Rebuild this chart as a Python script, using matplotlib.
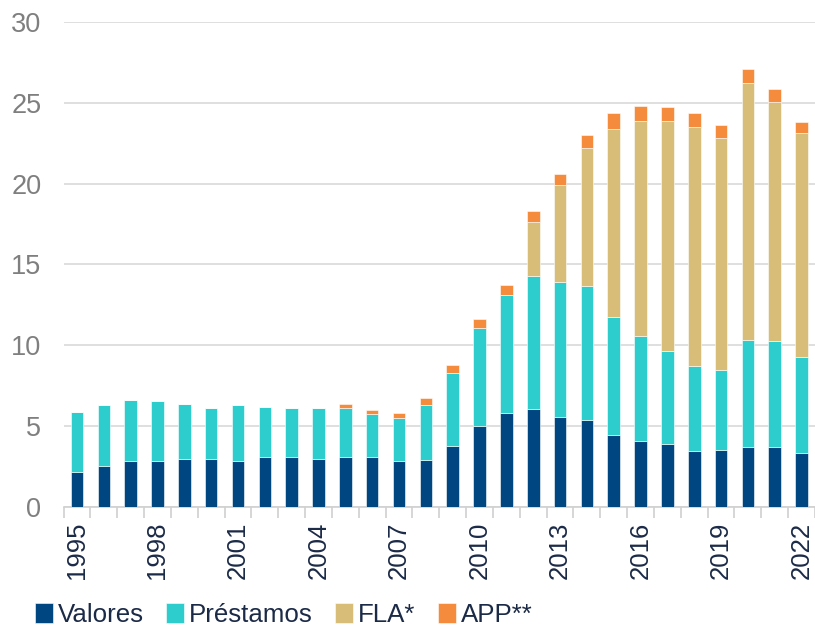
import matplotlib.pyplot as plt
import numpy as np

plt.rcParams['font.family'] = ['Liberation Sans', 'DejaVu Sans']

# Datos
anios = list(range(1995, 2023))
valores = [2.16, 2.49, 2.80, 2.80, 2.96, 2.96, 2.80, 3.05, 3.05, 2.96,
           3.05, 3.05, 2.80, 2.88, 3.75, 5.02, 5.80, 6.05, 5.58, 5.35,
           4.47, 4.07, 3.91, 3.44, 3.52, 3.69, 3.69, 3.30]
prestamos_top = [5.89, 6.28, 6.60, 6.52, 6.36, 6.11, 6.28, 6.20, 6.11, 6.11,
                 6.13, 5.72, 5.50, 6.28, 8.27, 11.06, 13.11, 14.28, 13.89, 13.67,
                 11.77, 10.58, 9.61, 8.69, 8.44, 10.33, 10.25, 9.24]
fla_top = [5.89, 6.28, 6.60, 6.52, 6.36, 6.11, 6.28, 6.20, 6.11, 6.11,
           6.13, 5.72, 5.50, 6.28, 8.27, 11.06, 13.11, 17.62, 19.92, 22.22,
           23.40, 23.89, 23.89, 23.48, 22.84, 26.26, 25.06, 23.15]
total = [5.89, 6.28, 6.60, 6.52, 6.36, 6.11, 6.28, 6.20, 6.11, 6.11,
         6.38, 5.97, 5.83, 6.75, 8.75, 11.60, 13.73, 18.32, 20.62, 22.99,
         24.35, 24.84, 24.73, 24.35, 23.62, 27.12, 25.85, 23.79]

valores = np.array(valores)
prestamos = np.array(prestamos_top) - valores
fla = np.array(fla_top) - np.array(prestamos_top)
app = np.array(total) - np.array(fla_top)

colores = ['#004681', '#2ecdcd', '#d7bd77', '#f58b3c']
etiquetas = ['Valores', 'Préstamos', 'FLA*', 'APP**']

fig = plt.figure(figsize=(8.15, 6.34), dpi=100)
ax = fig.add_axes([0.078, 0.2008, 0.922, 0.7642])

x = np.arange(len(anios))
w = 0.47
base = np.zeros(len(anios))
for serie, col, lab in zip([valores, prestamos, fla, app], colores, etiquetas):
    ax.bar(x, serie, w, bottom=base, color=col, label=lab, zorder=3,
           edgecolor='white', linewidth=0.4)
    base = base + serie

ax.set_ylim(0, 30)
ax.set_yticks(range(0, 31, 5))
ax.set_xlim(-0.5, 27.37)
ax.grid(axis='y', color='#d9d9d9', linewidth=1.2, zorder=0)

ax.set_xticks(x[::3])
ax.set_xticklabels([str(a) for a in anios[::3]], rotation=90)
ax.set_xticks(np.arange(-0.5, 28, 1), minor=True)
ax.tick_params(axis='x', which='major', length=0, pad=11, labelsize=18.5,
               labelcolor='#1b2a47')
ax.tick_params(axis='x', which='minor', length=8, color='#d0d0d0', width=1.2)
ax.tick_params(axis='y', length=0, pad=16, labelsize=19.5, labelcolor='#7f7f7f')

for s in ['top', 'right', 'left']:
    ax.spines[s].set_visible(False)
ax.spines['bottom'].set_color('#d0d0d0')
ax.spines['bottom'].set_linewidth(1.2)

fig.legend(loc='lower left', bbox_to_anchor=(0.03, -0.005), ncol=4, frameon=False,
           fontsize=18.6, handlelength=0.7, handleheight=0.85, handletextpad=0.2,
           columnspacing=0.85, labelcolor='#1b2a47', borderaxespad=0)

fig.savefig('out.png', dpi=100)
